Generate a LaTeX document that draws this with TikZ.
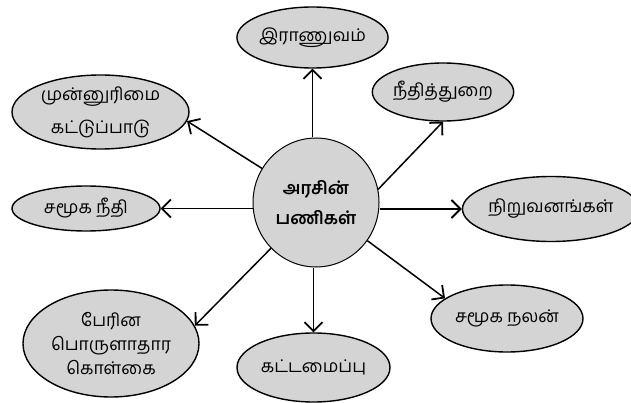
\documentclass[tikz,border=0pt]{standalone}
\usepackage{fontspec}
\newfontfamily\tam[Script=Tamil]{Hind Madurai}
\usetikzlibrary{shapes.geometric,arrows.meta}
\definecolor{fillgray}{RGB}{212,212,212}
\tikzset{
  bub/.style={ellipse,draw=black,line width=1.4pt,fill=fillgray,inner sep=0pt,align=center,font=\tam\fontsize{17.5}{22}\selectfont},
  arr/.style={line width=1.8pt,-{Straight Barb[length=9pt,width=18pt,line width=1.8pt]}},
}
\begin{document}
\begin{tikzpicture}[x=1pt,y=-1pt]
\useasboundingbox (0,0) rectangle (631,403);
\node[bub,line width=1pt,minimum width=126pt,minimum height=129pt,font=\tam\bfseries\fontsize{17.5}{30}\selectfont] (c) at (316,202.5) {அரசின்\\பணிகள்};
\node[bub,minimum width=129pt,minimum height=61pt] (ira) at (312.5,37.5) {இராணுவம்};
\node[bub,minimum width=127pt,minimum height=58pt] (nee) at (443,92) {நீதித்துறை};
\node[bub,minimum width=177pt,minimum height=74pt,font=\tam\fontsize{17.5}{33}\selectfont] (mun) at (100.5,112) {முன்னுரிமை\\கட்டுப்பாடு};
\node[bub,minimum width=148pt,minimum height=45pt] (samn) at (86,208.5) {சமூக நீதி};
\node[bub,minimum width=154pt,minimum height=65pt] (niru) at (551,209) {நிறுவனங்கள்};
\node[bub,minimum width=152pt,minimum height=67pt] (nalan) at (507,318.5) {சமூக நலன்};
\node[bub,minimum width=153pt,minimum height=69pt] (kat) at (313.5,367.5) {கட்டமைப்பு};
\node[bub,minimum width=176pt,minimum height=107pt,font=\tam\fontsize{17.5}{24}\selectfont] (per) at (111,343.5) {பேரின\\பொருளாதார\\கொள்கை};
\draw[arr] (c.north -| ira.south) -- (ira.south);
\draw[arr,line width=1.5pt] (c.12) -- (nee.south);
\draw[arr,line width=1.5pt] (c) -- (mun.-6);
\draw[arr] (c.west |- samn.east) -- (samn.east);
\draw[arr] (c.east |- niru.west) -- (niru.west);
\draw[arr,line width=1.5pt] (c) -- (nalan.162);
\draw[arr] (c.south -| kat.north) -- (kat.north);
\draw[arr,line width=1.5pt] (c) -- (per.12);
\end{tikzpicture}
\end{document}
